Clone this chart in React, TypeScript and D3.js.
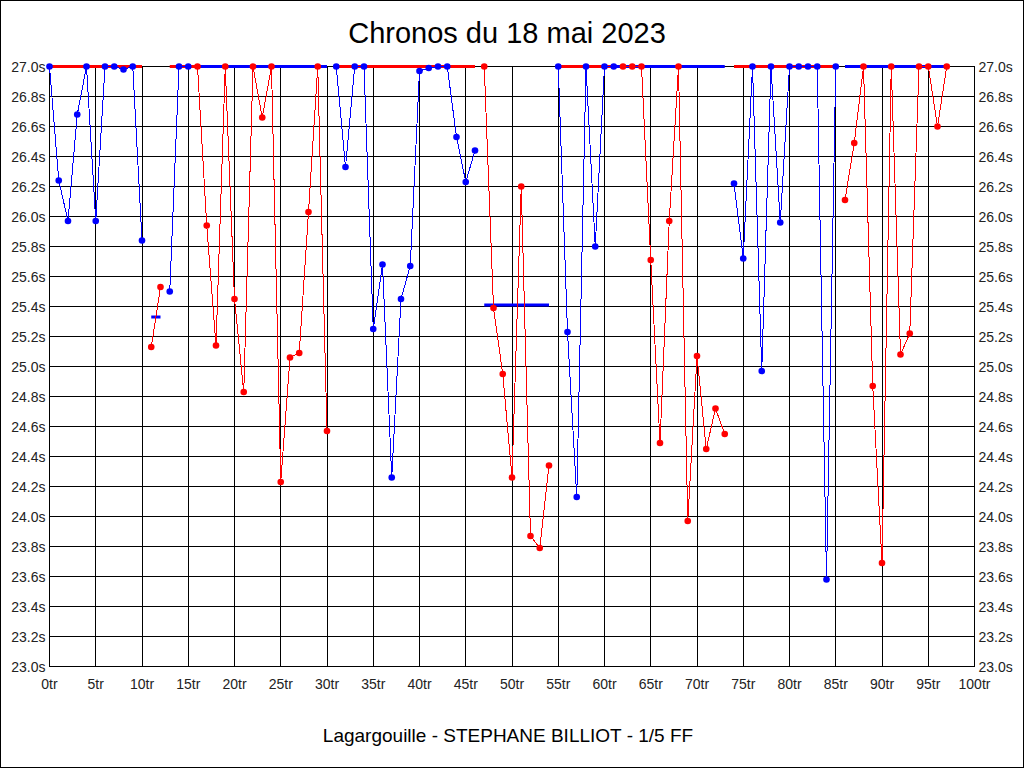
import { useRef, useEffect } from "react";
import * as d3 from "d3";

// lap times (s), one per lap; values above 27.0 are shown clipped at 27.0
const laps = d3.range(0, 98);
const lapTimes = [
  27.0, 26.24, 25.97, 26.68, 27.0, 25.97, 27.0, 27.0, 26.98, 27.0,
  25.84, 25.13, 25.53, 25.5, 27.0, 27.0, 27.0, 25.94, 25.14, 27.0,
  25.45, 24.83, 27.0, 26.66, 27.0, 24.23, 25.06, 25.09, 26.03, 27.0,
  24.57, 27.0, 26.33, 27.0, 27.0, 25.25, 25.68, 24.26, 25.45, 25.67,
  26.97, 26.99, 27.0, 27.0, 26.53, 26.23, 26.44, 27.0, 25.39, 24.95,
  24.26, 26.2, 23.87, 23.79, 24.34, 27.0, 25.23, 24.13, 27.0, 25.8,
  27.0, 27.0, 27.0, 27.0, 27.0, 25.71, 24.49, 25.97, 27.0, 23.97,
  25.07, 24.45, 24.72, 24.55, 26.22, 25.72, 27.0, 24.97, 27.0, 25.96,
  27.0, 27.0, 27.0, 27.0, 23.58, 27.0, 26.11, 26.49, 27.0, 24.87,
  23.69, 27.0, 25.08, 25.22, 27.0, 27.0, 26.6, 27.0,
];

// relays: first and last lap, and which colour the driver is drawn in
const stintFirst = [0, 11, 13, 16, 31, 47, 55, 62, 74, 86];
const stintLast = [10, 12, 15, 30, 46, 54, 61, 73, 85, 97];
const stintColor = ["blue", "red", "blue", "red", "blue", "red", "blue", "red", "blue", "red"];

// mean of each relay (clipped at 27.0), drawn in the other colour
const meanFrom = [0, 11, 13, 16, 31, 47, 55, 61, 74, 86];
const meanTo = [10, 12, 16, 30, 46, 54, 61, 73, 85, 97];
const meanValue = [27.0, 25.33, 27.0, 27.0, 27.0, 25.41, 27.0, 27.0, 27.0, 27.0];

const xTicks = d3.range(0, 101, 5);
const yTicks = d3.range(0, 21).map((i) => 23 + i * 0.2);

const title = "Chronos du 18 mai 2023";
const caption = "Lagargouille - STEPHANE BILLIOT - 1/5 FF";

const colors: Record<string, string> = { blue: "#0000ff", red: "#ff0000" };

export default function App() {
  const svgRef = useRef(null);
  const width = 1024;
  const height = 768;

  useEffect(() => {
    const svg = d3.select(svgRef.current);
    svg.selectAll("*").remove();

    const x = d3.scaleLinear().domain([0, 100]).range([49.5, 974.5]);
    const y = d3.scaleLinear().domain([23, 27]).range([666.5, 66.5]);
    const font = "'Liberation Sans', Arial, sans-serif";

    svg.append("rect")
      .attr("x", 0.5).attr("y", 0.5)
      .attr("width", width - 1).attr("height", height - 1)
      .attr("fill", "#fff").attr("stroke", "#000");

    svg.append("text")
      .attr("x", 507).attr("y", 43)
      .attr("text-anchor", "middle")
      .attr("font-family", font).attr("font-size", 29)
      .text(title);

    svg.append("text")
      .attr("x", 508).attr("y", 742)
      .attr("text-anchor", "middle")
      .attr("font-family", font).attr("font-size", 19)
      .text(caption);

    // grid
    const grid = svg.append("g")
      .attr("stroke", "#000").attr("shape-rendering", "crispEdges");
    grid.selectAll(".gx").data(xTicks).join("line")
      .attr("x1", (d) => x(d)).attr("x2", (d) => x(d))
      .attr("y1", y(23)).attr("y2", y(27));
    grid.selectAll(".gy").data(yTicks).join("line")
      .attr("x1", x(0)).attr("x2", x(100))
      .attr("y1", (d) => y(d)).attr("y2", (d) => y(d));

    // tick labels
    const labels = svg.append("g")
      .attr("font-family", font).attr("font-size", 14).attr("fill", "#222");
    labels.selectAll(".ly").data(yTicks).join("text")
      .attr("x", x(0) - 4).attr("y", (d) => y(d))
      .attr("dy", "0.36em").attr("text-anchor", "end")
      .text((d) => d.toFixed(1) + "s");
    labels.selectAll(".ry").data(yTicks).join("text")
      .attr("x", x(100) + 4).attr("y", (d) => y(d))
      .attr("dy", "0.36em").attr("text-anchor", "start")
      .text((d) => d.toFixed(1) + "s");
    labels.selectAll(".lx").data(xTicks).join("text")
      .attr("x", (d) => x(d)).attr("y", 689)
      .attr("text-anchor", "middle")
      .text((d) => d + "tr");

    // relay means
    svg.append("g").selectAll("line").data(meanValue).join("line")
      .attr("x1", (d, i) => x(meanFrom[i])).attr("x2", (d, i) => x(meanTo[i]))
      .attr("y1", (d) => y(d)).attr("y2", (d) => y(d))
      .attr("stroke", (d, i) => colors[stintColor[i] == "blue" ? "red" : "blue"])
      .attr("stroke-width", 3);

    // lap time lines and points per relay
    const line = d3.line<number>()
      .x((d) => x(laps[d]))
      .y((d) => y(Math.min(27, lapTimes[d])));

    stintFirst.forEach((first, s) => {
      const idx = d3.range(first, stintLast[s] + 1);
      const c = colors[stintColor[s]];
      const g = svg.append("g");
      g.append("path")
        .attr("d", line(idx))
        .attr("fill", "none")
        .attr("stroke", c)
        .attr("stroke-width", 1)
        .attr("shape-rendering", "crispEdges");
      g.selectAll("circle").data(idx).join("circle")
        .attr("cx", (d) => x(laps[d]))
        .attr("cy", (d) => y(Math.min(27, lapTimes[d])))
        .attr("r", 3.3)
        .attr("fill", c);
    });
  }, []);

  return (
    <svg
      ref={svgRef}
      width={width}
      height={height}
      style={{ position: "absolute", left: 0, top: 0 }}
    />
  );
}
